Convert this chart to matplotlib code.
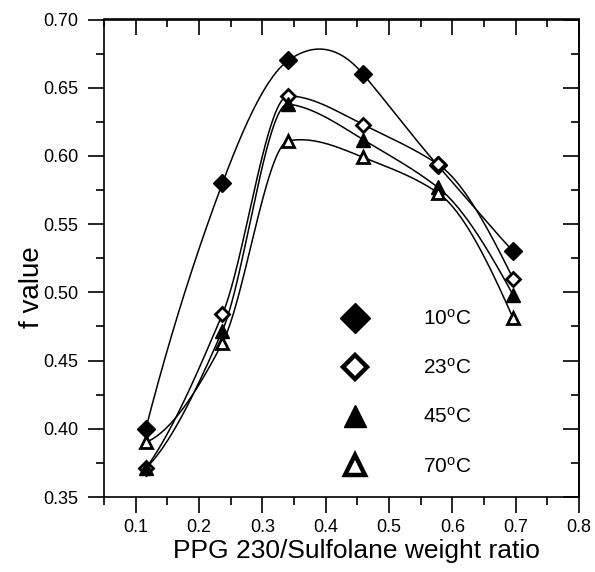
import numpy as np
import matplotlib
matplotlib.use("Agg")
import matplotlib.pyplot as plt
from matplotlib.lines import Line2D
from matplotlib.ticker import MultipleLocator, FormatStrFormatter

plt.rcParams['font.family'] = ['Liberation Sans', 'DejaVu Sans']
plt.rcParams['mathtext.fontset'] = 'custom'
plt.rcParams['mathtext.rm'] = 'Liberation Sans'
plt.rcParams['mathtext.it'] = 'Liberation Sans'

# ---- data ----
ratio = [0.116, 0.237, 0.341, 0.459, 0.577, 0.696]
f_10C = [0.400, 0.580, 0.670, 0.660, 0.593, 0.530]
f_23C = [0.371, 0.484, 0.644, 0.623, 0.594, 0.510]
f_45C = [0.371, 0.472, 0.638, 0.612, 0.577, 0.498]
f_70C = [0.390, 0.463, 0.611, 0.599, 0.573, 0.481]
labels = ["10$^{\\rm o}$C", "23$^{\\rm o}$C", "45$^{\\rm o}$C", "70$^{\\rm o}$C"]


def akima(x, y, xs):
    x = np.asarray(x, float)
    y = np.asarray(y, float)
    m = np.diff(y) / np.diff(x)
    mm1 = 2 * m[0] - m[1]
    mm2 = 2 * mm1 - m[0]
    mp1 = 2 * m[-1] - m[-2]
    mp2 = 2 * mp1 - m[-1]
    M = np.concatenate([[mm2, mm1], m, [mp1, mp2]])
    n = len(x)
    t = np.zeros(n)
    for i in range(n):
        a, b, c, d = M[i], M[i + 1], M[i + 2], M[i + 3]
        w1 = abs(d - c)
        w2 = abs(b - a)
        if w1 + w2 == 0:
            t[i] = 0.5 * (b + c)
        else:
            t[i] = (w1 * b + w2 * c) / (w1 + w2)
    ys = np.empty_like(xs)
    for k, xv in enumerate(xs):
        i = np.clip(np.searchsorted(x, xv) - 1, 0, n - 2)
        h = x[i + 1] - x[i]
        s = (xv - x[i]) / h
        h00 = 2 * s**3 - 3 * s**2 + 1
        h10 = s**3 - 2 * s**2 + s
        h01 = -2 * s**3 + 3 * s**2
        h11 = s**3 - s**2
        ys[k] = h00 * y[i] + h10 * h * t[i] + h01 * y[i + 1] + h11 * h * t[i + 1]
    return ys


fig = plt.figure(figsize=(5.95, 5.72), dpi=100)
ax = fig.add_axes([104 / 595, 1 - 497 / 572, 475 / 595, 477.5 / 572])

series = [f_10C, f_23C, f_45C, f_70C]
styles = [
    dict(marker='D', ms=9, mfc='black', mec='black', mew=1.0),
    dict(marker='D', ms=7.5, mfc='white', mec='black', mew=2.0),
    dict(marker='^', ms=9.5, mfc='black', mec='black', mew=1.0),
    dict(marker='^', ms=8, mfc='white', mec='black', mew=2.0),
]
xs = np.linspace(ratio[0], ratio[-1], 400)
for ys_data, st in zip(series, styles):
    ax.plot(xs, akima(ratio, ys_data, xs), color='black', lw=1.1, zorder=2)
    ax.plot(ratio, ys_data, ls='none', color='black', zorder=3, **st)

ax.set_xlim(0.05, 0.8)
ax.set_ylim(0.35, 0.70)
ax.xaxis.set_major_locator(MultipleLocator(0.1))
ax.xaxis.set_minor_locator(MultipleLocator(0.05))
ax.yaxis.set_major_locator(MultipleLocator(0.05))
ax.yaxis.set_minor_locator(MultipleLocator(0.025))
ax.xaxis.set_major_formatter(FormatStrFormatter('%.1f'))
ax.yaxis.set_major_formatter(FormatStrFormatter('%.2f'))

for sp in ax.spines.values():
    sp.set_linewidth(1.2)

ax.tick_params(which='major', direction='out', length=11.5, width=1.2,
               labelsize=13, top=False, right=False)
ax.tick_params(which='minor', direction='out', length=5.8, width=1.2,
               top=False, right=False)
ax.tick_params(axis='x', which='major', pad=4)
ax.tick_params(axis='y', which='major', pad=7)

sx = ax.secondary_xaxis('top')
sx.xaxis.set_major_locator(MultipleLocator(0.1))
sx.xaxis.set_minor_locator(MultipleLocator(0.05))
sx.tick_params(which='major', direction='in', length=11.5, width=1.2, labeltop=False)
sx.tick_params(which='minor', direction='in', length=5.8, width=1.2)
sx.spines['top'].set_linewidth(1.2)

sy = ax.secondary_yaxis('right')
sy.yaxis.set_major_locator(MultipleLocator(0.05))
sy.yaxis.set_minor_locator(MultipleLocator(0.025))
sy.tick_params(which='major', direction='in', length=11.5, width=1.2, labelright=False)
sy.tick_params(which='minor', direction='in', length=5.8, width=1.2)
sy.spines['right'].set_linewidth(1.2)

ax.set_xlabel("PPG 230/Sulfolane weight ratio", fontsize=19)
ax.set_ylabel("f value", fontsize=20)
ax.xaxis.set_label_coords(0.531, -0.088)
ax.yaxis.set_label_coords(-0.124, 0.44)

handles = [
    Line2D([], [], ls='none', marker='D', ms=15.5, mfc='black', mec='black', mew=1.0),
    Line2D([], [], ls='none', marker='D', ms=12, mfc='white', mec='black', mew=3.2),
    Line2D([], [], ls='none', marker='^', ms=16, mfc='black', mec='black', mew=1.0),
    Line2D([], [], ls='none', marker='^', ms=14, mfc='white', mec='black', mew=3.2),
]
ax.legend(handles, labels, loc='upper left', bbox_to_anchor=(0.484, 0.394),
          frameon=False, fontsize=15, handlelength=2.0, handletextpad=2.3,
          labelspacing=1.4, borderpad=0, borderaxespad=0, numpoints=1)

fig.savefig("out.png", dpi=100)
